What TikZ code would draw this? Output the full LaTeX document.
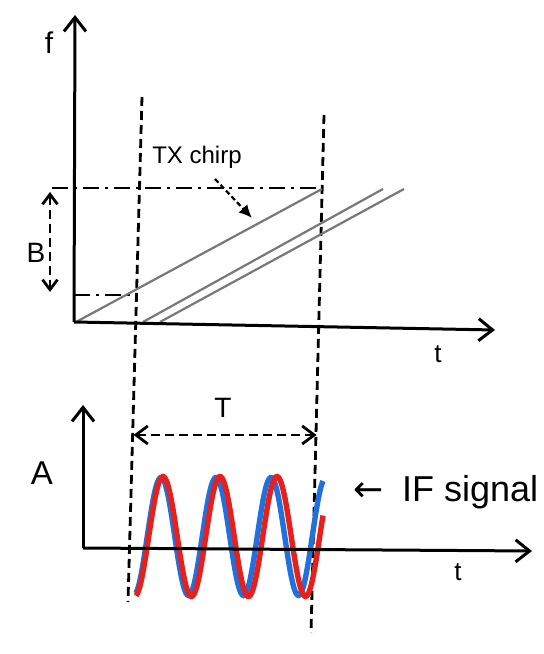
\documentclass[tikz,border=0pt]{standalone}
\usepackage{fontspec}
\setmainfont{Liberation Sans}
\newfontfamily\arrowfont{DejaVu Sans}
\usetikzlibrary{arrows.meta}
\definecolor{SignalRed}{RGB}{232,32,28}
\definecolor{SignalBlue}{RGB}{32,112,222}
\definecolor{ChirpGray}{RGB}{120,120,120}
\tikzset{
  axis/.style={line width=1.5pt,-{Straight Barb[length=7pt,width=11pt]}},
  guide/.style={line width=1.4pt,dash pattern=on 4.5pt off 2.5pt},
  level/.style={line width=1.2pt,dash pattern=on 8pt off 3pt on 1.5pt off 3pt},
  chirp/.style={ChirpGray,line width=1.1pt},
  span/.style={guide,{Straight Barb[length=6pt,width=9pt]}-{Straight Barb[length=6pt,width=9pt]}},
  bspan/.style={guide,{Straight Barb[length=5pt,width=7.5pt]}-{Straight Barb[length=5pt,width=7.5pt]}},
  pointer/.style={line width=1.1pt,dash pattern=on 2.5pt off 1.5pt,-{Latex[length=6.5pt,width=6pt]}},
  wave/.style={line width=2.7pt,smooth,samples=140},
  tag/.style={inner sep=0pt}
}

\begin{document}
\begin{tikzpicture}[x=5pt,y=5pt]
  \useasboundingbox (0,0) rectangle (54.3,65.4);
  \coordinate (O1) at (7.4,33.2);
  \coordinate (fend) at (7.5,63.9);
  \coordinate (t1end) at (49.5,32.4);
  \coordinate (O2) at (8.3,10.6);
  \coordinate (Aend) at (8.3,24.9);
  \coordinate (t2end) at (53.2,10.3);
  \coordinate (g1top) at (14.2,55.7);
  \coordinate (g1bot) at (12.8,5.2);
  \coordinate (g2top) at (32.4,53.9);
  \coordinate (g2bot) at (31.1,2.1);
  \coordinate (Bhi) at (5.0,46.2);
  \coordinate (Blo) at (5.0,36.2);
  \coordinate (Ttl) at (13.35,21.9);
  \coordinate (Ttr) at (31.65,21.9);
  \coordinate (txtail) at (21.5,47.5);
  \coordinate (txhead) at (25.2,43.6);

  \node[tag,font=\fontsize{15}{15}\selectfont] (flab) at (4.9,61.1) {f};
  \node[tag,font=\fontsize{13}{13}\selectfont] (t1lab) at (43.8,30.0) {t};
  \node[tag,font=\fontsize{14}{14}\selectfont] (Blab) at (3.6,40.1) {B};
  \node[tag,font=\fontsize{12}{12}\selectfont] (txlab) at (19.7,49.7) {TX chirp};
  \node[tag,font=\fontsize{16.5}{16.5}\selectfont] (Alab) at (4.2,18.1) {A};
  \node[tag,font=\fontsize{13}{13}\selectfont] (t2lab) at (45.8,8.2) {t};
  \node[tag,font=\fontsize{14}{14}\selectfont] (Tlab) at (22.3,24.6) {T};
  \node[tag,font=\fontsize{18}{18}\selectfont] (iflab) at (44.6,16.2) {{\arrowfont ←}\hspace{9pt}IF signal};

  \draw[guide] (g1top) -- (g1bot);
  \draw[guide] (g2top) -- (g2bot);
  \draw[level] (5.2,46.6) -- (32.2,46.6);
  \draw[level] (O1 |- 0,35.9) -- (13.6,35.9);
  \draw[bspan] (Bhi) -- (Blo);
  \draw[chirp] (7.6,33.2) -- (32.2,46.5);
  \draw[chirp] (14.3,33.2) -- (38.3,46.5);
  \draw[chirp] (16.0,33.2) -- (40.4,46.5);
  \draw[pointer] (txtail) -- (txhead);
  \draw[axis] (O1) -- (fend);
  \draw[axis] (O1) -- (t1end);

  \draw[span] (Ttl) -- (Ttr);
  \draw[wave,SignalBlue] plot[domain=13.6:32.3] (\x,{11.75+5.9*cos(360*(\x-16.1)/5.5)});
  \draw[wave,SignalRed] plot[domain=13.6:32.3] (\x,{11.75+6.0*cos(360*(\x-16.3)/5.7)});
  \draw[axis] (O2) -- (Aend);
  \draw[axis] (O2) -- (t2end);
\end{tikzpicture}
\end{document}
